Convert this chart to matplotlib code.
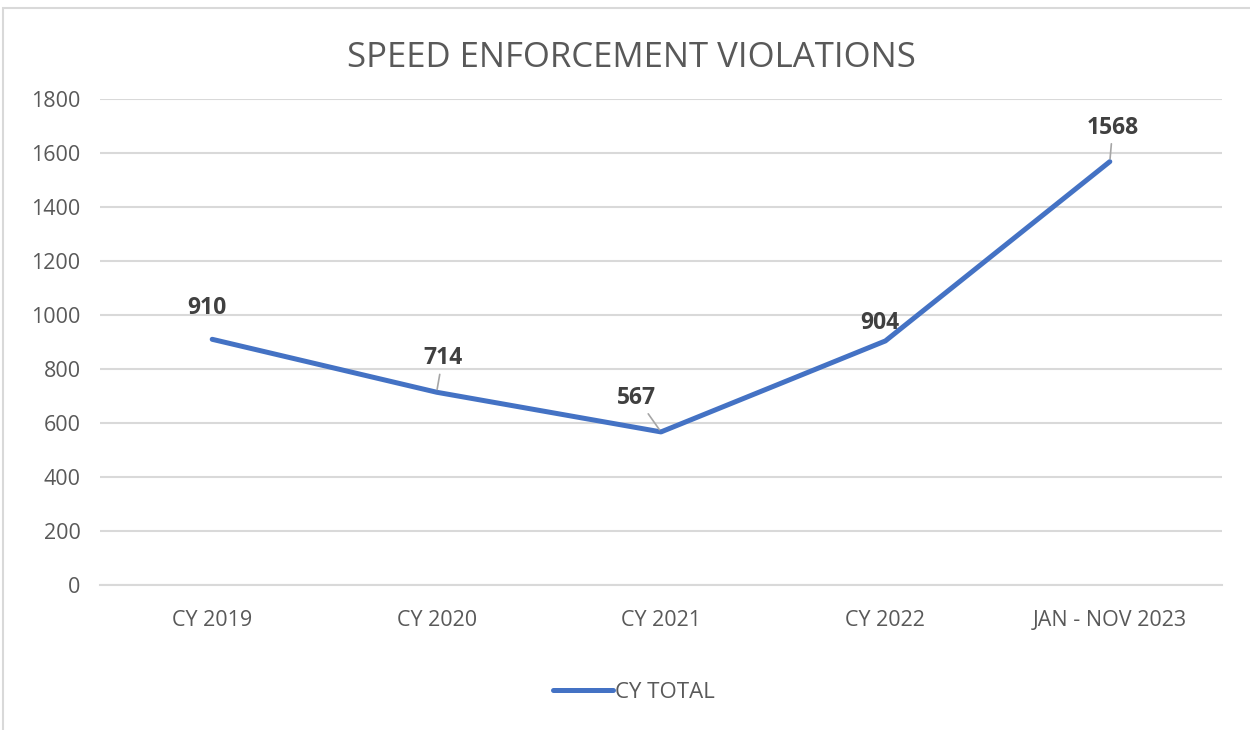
import matplotlib.pyplot as plt
from matplotlib.patches import Rectangle

categories = ['CY 2019', 'CY 2020', 'CY 2021', 'CY 2022', 'JAN - NOV 2023']
violations = [910, 714, 567, 904, 1568]
# label offsets in pixels (dx, dy) and whether a leader line is drawn
label_offsets = [(-5, 31), (6, 34), (-24, 34), (-6, 18), (3, 34)]
leaders = [False, True, True, False, True]

plt.rcParams['font.family'] = ['Open Sans', 'DejaVu Sans']

fig = plt.figure(figsize=(12.5, 7.3), dpi=100)
ax = fig.add_axes([0.08, 0.1986, 0.8976, 0.6658])

# outer chart frame
fig.patches.append(Rectangle((3 / 1250, -0.05), 1.1, 1 - 8 / 730 + 0.05,
                             transform=fig.transFigure, fill=False,
                             edgecolor='#d9d9d9', linewidth=1.5))

x = range(len(categories))
ax.plot(x, violations, color='#4472c4', linewidth=3.6, solid_capstyle='round',
        solid_joinstyle='round', label='CY TOTAL', zorder=3)

for i, v in enumerate(violations):
    dx, dy = label_offsets[i]
    arrow = dict(arrowstyle='-', color='#a6a6a6', lw=1.2, shrinkA=1, shrinkB=2) if leaders[i] else None
    ax.annotate(str(v), xy=(i, v), xytext=(dx, dy), textcoords='offset pixels',
                ha='center', va='center', fontsize=16.5, fontweight='bold',
                color='#404040', arrowprops=arrow, zorder=4)

ax.set_xlim(-0.5, len(categories) - 0.5)
ax.set_ylim(0, 1800)
ax.set_yticks(range(0, 1801, 200))
ax.set_xticks(list(x))
ax.set_xticklabels(categories)
ax.tick_params(axis='both', length=0, labelsize=15.5, labelcolor='#595959')
ax.tick_params(axis='y', pad=14)
ax.tick_params(axis='x', pad=18)
ax.grid(axis='y', color='#d9d9d9', linewidth=1.5)
ax.set_axisbelow(True)
for s in ['top', 'right', 'left']:
    ax.spines[s].set_visible(False)
ax.spines['bottom'].set_color('#d9d9d9')
ax.spines['bottom'].set_linewidth(1.5)

fig.text(0.505, 1 - 58 / 730, 'SPEED ENFORCEMENT VIOLATIONS', ha='center', va='center',
         fontsize=25, color='#595959')

fig.legend(loc='center', bbox_to_anchor=(0.507, 1 - 692 / 730), frameon=False,
           fontsize=16, labelcolor='#595959', handlelength=2.7, handletextpad=0.1)

plt.savefig('out.png', dpi=100)
